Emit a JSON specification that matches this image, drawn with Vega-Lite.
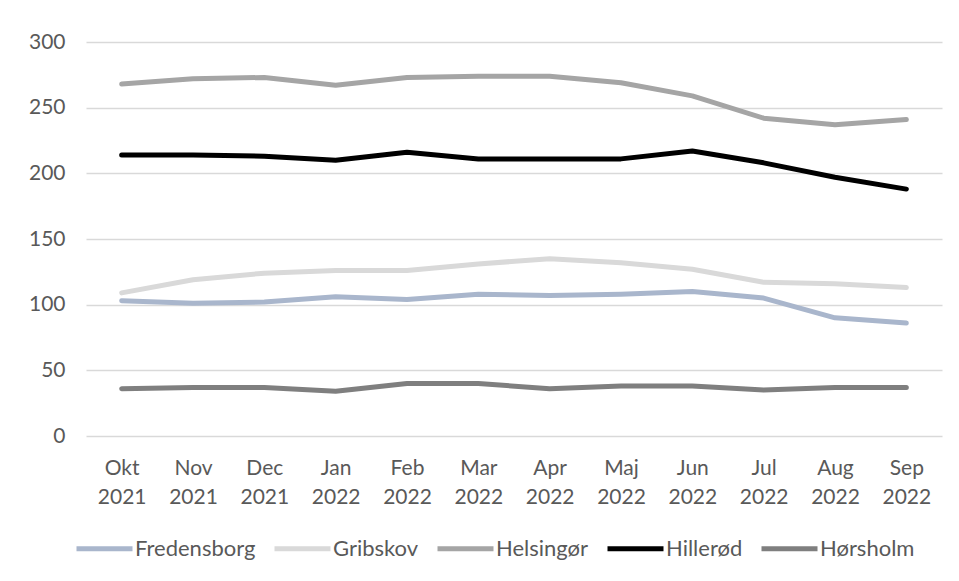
{
  "$schema": "https://vega.github.io/schema/vega-lite/v6.json",
  "width": 856,
  "height": 394,
  "autosize": {"type": "none"},
  "padding": {"left": 86, "top": 42, "right": 17, "bottom": 145},
  "background": "white",
  "config": {
    "font": "Lato",
    "view": {"stroke": null},
    "axis": {"labelFont": "Lato", "labelColor": "#595959", "labelFontSize": 21}
  },
  "data": {
    "values": [
      {"m": "Okt 2021", "k": "Fredensborg", "v": 103}, {"m": "Nov 2021", "k": "Fredensborg", "v": 101}, {"m": "Dec 2021", "k": "Fredensborg", "v": 102}, {"m": "Jan 2022", "k": "Fredensborg", "v": 106}, {"m": "Feb 2022", "k": "Fredensborg", "v": 104}, {"m": "Mar 2022", "k": "Fredensborg", "v": 108}, {"m": "Apr 2022", "k": "Fredensborg", "v": 107}, {"m": "Maj 2022", "k": "Fredensborg", "v": 108}, {"m": "Jun 2022", "k": "Fredensborg", "v": 110}, {"m": "Jul 2022", "k": "Fredensborg", "v": 105}, {"m": "Aug 2022", "k": "Fredensborg", "v": 90}, {"m": "Sep 2022", "k": "Fredensborg", "v": 86},
      {"m": "Okt 2021", "k": "Gribskov", "v": 109}, {"m": "Nov 2021", "k": "Gribskov", "v": 119}, {"m": "Dec 2021", "k": "Gribskov", "v": 124}, {"m": "Jan 2022", "k": "Gribskov", "v": 126}, {"m": "Feb 2022", "k": "Gribskov", "v": 126}, {"m": "Mar 2022", "k": "Gribskov", "v": 131}, {"m": "Apr 2022", "k": "Gribskov", "v": 135}, {"m": "Maj 2022", "k": "Gribskov", "v": 132}, {"m": "Jun 2022", "k": "Gribskov", "v": 127}, {"m": "Jul 2022", "k": "Gribskov", "v": 117}, {"m": "Aug 2022", "k": "Gribskov", "v": 116}, {"m": "Sep 2022", "k": "Gribskov", "v": 113},
      {"m": "Okt 2021", "k": "Helsingør", "v": 268}, {"m": "Nov 2021", "k": "Helsingør", "v": 272}, {"m": "Dec 2021", "k": "Helsingør", "v": 273}, {"m": "Jan 2022", "k": "Helsingør", "v": 267}, {"m": "Feb 2022", "k": "Helsingør", "v": 273}, {"m": "Mar 2022", "k": "Helsingør", "v": 274}, {"m": "Apr 2022", "k": "Helsingør", "v": 274}, {"m": "Maj 2022", "k": "Helsingør", "v": 269}, {"m": "Jun 2022", "k": "Helsingør", "v": 259}, {"m": "Jul 2022", "k": "Helsingør", "v": 242}, {"m": "Aug 2022", "k": "Helsingør", "v": 237}, {"m": "Sep 2022", "k": "Helsingør", "v": 241},
      {"m": "Okt 2021", "k": "Hillerød", "v": 214}, {"m": "Nov 2021", "k": "Hillerød", "v": 214}, {"m": "Dec 2021", "k": "Hillerød", "v": 213}, {"m": "Jan 2022", "k": "Hillerød", "v": 210}, {"m": "Feb 2022", "k": "Hillerød", "v": 216}, {"m": "Mar 2022", "k": "Hillerød", "v": 211}, {"m": "Apr 2022", "k": "Hillerød", "v": 211}, {"m": "Maj 2022", "k": "Hillerød", "v": 211}, {"m": "Jun 2022", "k": "Hillerød", "v": 217}, {"m": "Jul 2022", "k": "Hillerød", "v": 208}, {"m": "Aug 2022", "k": "Hillerød", "v": 197}, {"m": "Sep 2022", "k": "Hillerød", "v": 188},
      {"m": "Okt 2021", "k": "Hørsholm", "v": 36}, {"m": "Nov 2021", "k": "Hørsholm", "v": 37}, {"m": "Dec 2021", "k": "Hørsholm", "v": 37}, {"m": "Jan 2022", "k": "Hørsholm", "v": 34}, {"m": "Feb 2022", "k": "Hørsholm", "v": 40}, {"m": "Mar 2022", "k": "Hørsholm", "v": 40}, {"m": "Apr 2022", "k": "Hørsholm", "v": 36}, {"m": "Maj 2022", "k": "Hørsholm", "v": 38}, {"m": "Jun 2022", "k": "Hørsholm", "v": 38}, {"m": "Jul 2022", "k": "Hørsholm", "v": 35}, {"m": "Aug 2022", "k": "Hørsholm", "v": 37}, {"m": "Sep 2022", "k": "Hørsholm", "v": 37}
    ]
  },
  "mark": {"type": "line", "strokeWidth": 5, "strokeCap": "round", "strokeJoin": "round"},
  "encoding": {
    "x": {
      "field": "m", "type": "ordinal",
      "scale": {"type": "point", "padding": 0.5, "domain": ["Okt 2021", "Nov 2021", "Dec 2021", "Jan 2022", "Feb 2022", "Mar 2022", "Apr 2022", "Maj 2022", "Jun 2022", "Jul 2022", "Aug 2022", "Sep 2022"]},
      "axis": {"title": null, "domain": false, "ticks": false, "grid": false, "labelAngle": 0, "labelPadding": 21, "labelBaseline": "top", "labelLineHeight": 29, "labelExpr": "split(datum.value, ' ')"}
    },
    "y": {
      "field": "v", "type": "quantitative",
      "scale": {"domain": [0, 300], "nice": false},
      "axis": {"title": null, "domain": false, "ticks": false, "values": [0, 50, 100, 150, 200, 250, 300], "gridColor": "#d9d9d9", "gridWidth": 1.5, "labelPadding": 21}
    },
    "color": {
      "field": "k", "type": "nominal",
      "scale": {"domain": ["Fredensborg", "Gribskov", "Helsingør", "Hillerød", "Hørsholm"], "range": ["#a9b6cc", "#d9d9d9", "#a5a5a5", "#000000", "#7f7f7f"]},
      "legend": {"title": null, "orient": "none", "legendX": -12, "legendY": 476, "direction": "horizontal", "symbolType": "stroke", "symbolSize": 3136, "symbolStrokeWidth": 5, "labelFont": "Lato", "labelFontSize": 22, "labelColor": "#595959", "labelOffset": 0, "columnPadding": 8, "symbolOffset": 0}
    }
  }
}
